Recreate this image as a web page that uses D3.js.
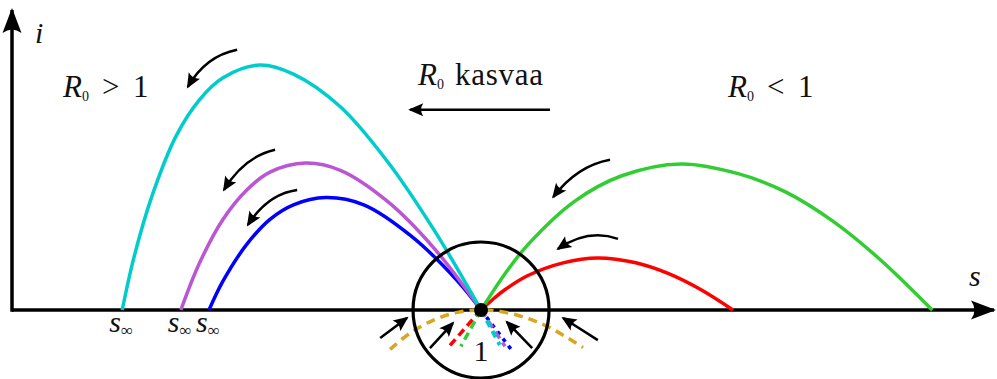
<!DOCTYPE html>
<html>
<head>
<meta charset="utf-8">
<script src="https://cdn.jsdelivr.net/npm/d3@7/dist/d3.min.js"></script>
<style>
  body { margin: 0; background: #fff; }
  text { font-family: "Liberation Serif", "Times New Roman", serif; fill: #111; }
</style>
</head>
<body>
<script>
// trajectoires i(s)
const sCyan = [0.235, 0.26, 0.3, 0.35, 0.4, 0.45, 0.528, 0.6, 0.7, 0.8, 0.9, 1.0];
const iCyan = [0, 0.029, 0.064, 0.096, 0.116, 0.128, 0.135, 0.130, 0.112, 0.082, 0.044, 0];
const sPurple = [0.36, 0.4, 0.45, 0.5, 0.55, 0.626, 0.7, 0.8, 0.9, 1.0];
const iPurple = [0, 0.026, 0.050, 0.066, 0.076, 0.081, 0.077, 0.060, 0.034, 0];
const sBlue = [0.42, 0.45, 0.5, 0.55, 0.6, 0.669, 0.75, 0.85, 0.95, 1.0];
const iBlue = [0, 0.016, 0.036, 0.050, 0.058, 0.062, 0.058, 0.041, 0.016, 0];
const sGreen = [1, 1.05, 1.1, 1.2, 1.3, 1.427, 1.55, 1.65, 1.75, 1.85, 1.962];
const iGreen = [0, 0.0196, 0.036, 0.060, 0.074, 0.0805, 0.075, 0.065, 0.049, 0.028, 0];
const sRed = [1, 1.025, 1.05, 1.1, 1.175, 1.249, 1.33, 1.4, 1.47, 1.537];
const iRed = [0, 0.0058, 0.011, 0.019, 0.026, 0.0287, 0.026, 0.020, 0.011, 0];

// prolongements en pointillés sous l'axe
const sCyanTail = [1, 1.02, 1.04], iCyanTail = [0, -0.0095, -0.0193];
const sPurpleTail = [1, 1.051], iPurpleTail = [0, -0.020];
const sBlueTail = [1, 1.068], iBlueTail = [0, -0.023];
const sRedTail = [1, 0.932], iRedTail = [0, -0.020];
const sGreenTail = [1, 0.957], iGreenTail = [0, -0.020];
const sGold = [0.806, 0.85, 0.9, 0.95, 1, 1.05, 1.1, 1.15, 1.2175];
const iGold = [-0.0217, -0.0125, -0.0054, -0.0013, 0, -0.0012, -0.0047, -0.0102, -0.0207];

// valeurs s_inf marquées sous l'axe
const sInf = [0.235, 0.36, 0.42];

// flèches (début, contrôle, pointe) en coordonnées (s, i)
const curvedArrows = [
  [[0.480, 0.1434], [0.413, 0.1400], [0.375, 0.1230]],
  [[0.561, 0.0883], [0.495, 0.0845], [0.452, 0.0662]],
  [[0.608, 0.0662], [0.545, 0.0640], [0.503, 0.0469]],
  [[1.275, 0.0828], [1.205, 0.0795], [1.154, 0.0623]],
  [[1.292, 0.0392], [1.228, 0.0450], [1.164, 0.0337]]
];
const straightArrows = [
  [[1.147, 0.1103], [0.849, 0.1103]],
  [[0.785, -0.0154], [0.842, -0.0044]],
  [[0.891, -0.0210], [0.940, -0.0072]],
  [[1.109, -0.0210], [1.055, -0.0066]],
  [[1.249, -0.0166], [1.175, -0.0044]]
];

const width = 997, height = 379;
const svg = d3.select("body").append("svg")
  .attr("width", width)
  .attr("height", height);

const x = d3.scaleLinear().domain([0, 2.1]).range([12, 997]);
const y = d3.scaleLinear().domain([0, 0.167]).range([310, 7]);

// têtes de flèche style "stealth"
const defs = svg.append("defs");
function addMarker(id, len, wid) {
  defs.append("marker")
    .attr("id", id)
    .attr("markerUnits", "userSpaceOnUse")
    .attr("viewBox", `${-len - 1} ${-wid / 2 - 1} ${len + 2} ${wid + 2}`)
    .attr("refX", -2).attr("refY", 0)
    .attr("markerWidth", len + 2).attr("markerHeight", wid + 2)
    .attr("orient", "auto")
    .append("path")
    .attr("d", `M0,0 L${-len},${-wid / 2} Q${-len * 0.72},0 ${-len},${wid / 2} Z`)
    .attr("fill", "#000");
}
addMarker("head", 15, 13);
addMarker("axisHead", 25, 19);

const line = d3.line()
  .x(d => x(d[0]))
  .y(d => y(d[1]))
  .curve(d3.curveCatmullRom.alpha(0.5));

function pts(s, i) { return s.map((v, k) => [v, i[k]]); }

// axes
svg.append("line")
  .attr("x1", x(0)).attr("y1", y(0))
  .attr("x2", x(2.1) - 3).attr("y2", y(0))
  .attr("stroke", "#000").attr("stroke-width", 3.5)
  .attr("marker-end", "url(#axisHead)");
svg.append("line")
  .attr("x1", x(0)).attr("y1", y(0) + 1.7)
  .attr("x2", x(0)).attr("y2", y(0.167) + 3)
  .attr("stroke", "#000").attr("stroke-width", 3.5)
  .attr("marker-end", "url(#axisHead)");

// pointillés
const tails = [
  { s: sGold, i: iGold, c: "#daa520", dash: "9,6", w: 3.5 },
  { s: sRedTail, i: iRedTail, c: "#ff0000", dash: "8,5", w: 3.5 },
  { s: sGreenTail, i: iGreenTail, c: "#32cd32", dash: "8,5", w: 3.5 },
  { s: sBlueTail, i: iBlueTail, c: "#0000ff", dash: "4,5", w: 3.5 },
  { s: sPurpleTail, i: iPurpleTail, c: "#ba55d3", dash: "8,5", w: 3.5 },
  { s: sCyanTail, i: iCyanTail, c: "#00cccc", dash: "7,5", w: 4 }
];
svg.selectAll("path.tail")
  .data(tails)
  .enter().append("path")
  .attr("class", "tail")
  .attr("d", d => line(pts(d.s, d.i)))
  .attr("fill", "none")
  .attr("stroke", d => d.c)
  .attr("stroke-width", d => d.w)
  .attr("stroke-dasharray", d => d.dash);

// courbes pleines
const curves = [
  { s: sBlue, i: iBlue, c: "#0000ff" },
  { s: sPurple, i: iPurple, c: "#ba55d3" },
  { s: sCyan, i: iCyan, c: "#00cccc" },
  { s: sRed, i: iRed, c: "#ff0000" },
  { s: sGreen, i: iGreen, c: "#32cd32" }
];
svg.selectAll("path.curve")
  .data(curves)
  .enter().append("path")
  .attr("class", "curve")
  .attr("d", d => line(pts(d.s, d.i)))
  .attr("fill", "none")
  .attr("stroke", d => d.c)
  .attr("stroke-width", 3.5);

// cercle autour de (1,0)
svg.append("circle")
  .attr("cx", x(1)).attr("cy", y(0)).attr("r", 68)
  .attr("fill", "none").attr("stroke", "#000").attr("stroke-width", 3.2);
svg.append("circle")
  .attr("cx", x(1)).attr("cy", y(0)).attr("r", 7)
  .attr("fill", "#000");

// flèches
svg.selectAll("path.carrow")
  .data(curvedArrows)
  .enter().append("path")
  .attr("class", "carrow")
  .attr("d", d => `M${x(d[0][0])},${y(d[0][1])} Q${x(d[1][0])},${y(d[1][1])} ${x(d[2][0])},${y(d[2][1])}`)
  .attr("fill", "none").attr("stroke", "#000").attr("stroke-width", 2.5)
  .attr("marker-end", "url(#head)");
svg.selectAll("line.sarrow")
  .data(straightArrows)
  .enter().append("line")
  .attr("class", "sarrow")
  .attr("x1", d => x(d[0][0])).attr("y1", d => y(d[0][1]))
  .attr("x2", d => x(d[1][0])).attr("y2", d => y(d[1][1]))
  .attr("stroke", "#000").attr("stroke-width", 2.5)
  .attr("marker-end", "url(#head)");

// textes
function r0(xp, yp) {
  const t = svg.append("text").attr("x", xp).attr("y", yp).style("font-size", "31px");
  t.append("tspan").style("font-style", "italic").text("R");
  t.append("tspan").attr("dy", 4).style("font-size", "14px").text("0");
  return t;
}
function plain(xp, yp, txt, size) {
  return svg.append("text").attr("x", xp).attr("y", yp)
    .style("font-size", size + "px").text(txt);
}
r0(63, 97);
plain(102, 97, ">", 31);
plain(133, 97, "1", 31);
r0(418, 85);
plain(455, 85, "kasvaa", 31).attr("textLength", 88);
r0(728, 97);
plain(767, 97, "<", 31);
plain(798, 97, "1", 31);

svg.append("text").attr("x", 35).attr("y", 43)
  .style("font-size", "30px").style("font-style", "italic").text("i");
svg.append("text").attr("x", 969).attr("y", 286)
  .style("font-size", "30px").style("font-style", "italic").text("s");
svg.append("text").attr("x", x(1)).attr("y", 361).attr("text-anchor", "middle")
  .style("font-size", "30px").text("1");

sInf.forEach(v => {
  const t = svg.append("text").attr("x", x(v) - 13).attr("y", 332).style("font-size", "30px");
  t.append("tspan").style("font-style", "italic").text("s");
  t.append("tspan").attr("dy", 4).style("font-size", "17px").text("\u221e");
});
</script>
</body>
</html>
